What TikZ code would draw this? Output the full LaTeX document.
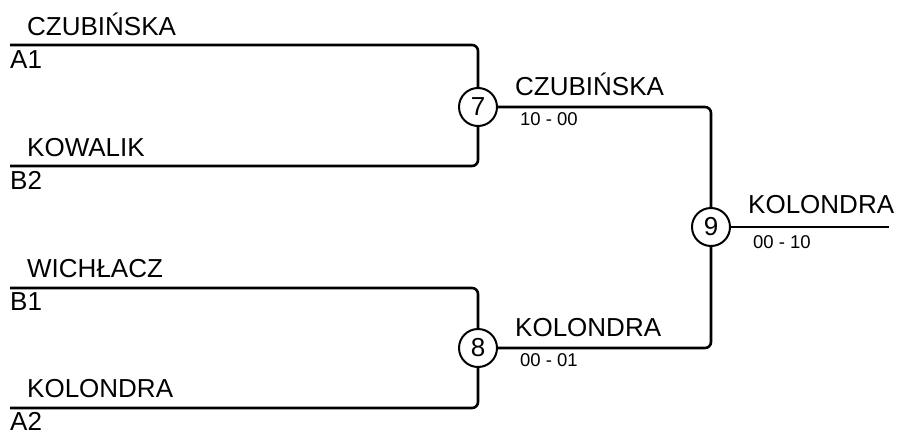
\documentclass[tikz,border=0pt]{standalone}
\usepackage{fontspec}
\setmainfont{Liberation Sans}
\begin{document}
\begin{tikzpicture}[x=1pt,y=-1pt,
  conn/.style={line width=2.6pt, rounded corners=6pt},
  match/.style={circle, draw, line width=2pt, minimum size=38pt, inner sep=0pt, font=\fontsize{26}{28}\selectfont},
  pname/.style={anchor=base west, inner sep=0pt, font=\fontsize{26}{28}\selectfont},
  pscore/.style={anchor=base west, inner sep=0pt, font=\fontsize{18.5}{20}\selectfont}]
\useasboundingbox (0,0) rectangle (899,434);
% coordinates
\coordinate (a1) at (10,45);
\coordinate (b2) at (10,166);
\coordinate (b1) at (10,288);
\coordinate (a2) at (10,408);
\coordinate (fin) at (889,227);
% matches
\node[match] (m7) at (478,107) {7};
\node[match] (m8) at (478,348) {8};
\node[match] (m9) at (711,227) {9};
% connectors
\draw[conn] (a1) -| (m7.north);
\draw[conn] (b2) -| (m7.south);
\draw[conn] (b1) -| (m8.north);
\draw[conn] (a2) -| (m8.south);
\draw[conn] (m7.east) -| (m9.north);
\draw[conn] (m8.east) -| (m9.south);
\draw[conn] (m9.east) -- (fin);
% texts
\node[pname] (t1) at (27,35) {CZUBIŃSKA};
\node[pname] (s1) at (10,68) {A1};
\node[pname] (t2) at (27,156) {KOWALIK};
\node[pname] (s2) at (10,189) {B2};
\node[pname] (t3) at (27,277) {WICHŁACZ};
\node[pname] (s3) at (10,310) {B1};
\node[pname] (t4) at (27,397) {KOLONDRA};
\node[pname] (s4) at (10,430) {A2};
\node[pname] (w7) at (515,95) {CZUBIŃSKA};
\node[pscore] (r7) at (520,125) {10 - 00};
\node[pname] (w8) at (515,336) {KOLONDRA};
\node[pscore] (r8) at (520,366) {00 - 01};
\node[pname] (w9) at (748,213) {KOLONDRA};
\node[pscore] (r9) at (753,248) {00 - 10};
\end{tikzpicture}
\end{document}
